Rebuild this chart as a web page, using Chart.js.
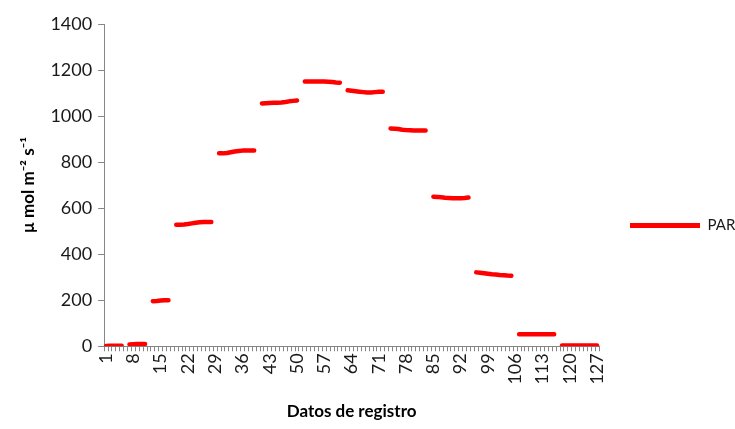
<!DOCTYPE html>
<html>
<head>
<meta charset="utf-8">
<script src="https://cdn.jsdelivr.net/npm/chart.js@4"></script>
<style>
    html, body { margin: 0; padding: 0; background: #fff; }
    #wrap { width: 735px; height: 429px; }
</style>
</head>
<body>
<div id="wrap"><canvas id="par-chart" width="735" height="429"></canvas></div>
<script>
// === DATOS ===
const categories = Array.from({ length: 127 }, (_, i) => i + 1);
const tickLabels = [1, 8, 15, 22, 29, 36, 43, 50, 57, 64, 71, 78, 85, 92, 99, 106, 113, 120, 127];
const yTicks = [0, 200, 400, 600, 800, 1000, 1200, 1400];

// PAR por registro (null = hueco entre tramos)
const parValues = [
    1, 2, 2, 2, 2, null,
    8, 9, 10, 10, 10, null,
    196, 197, 199, 200, 200, null,
    528, 528, 529, 531, 534, 537, 539, 540, 540, 540, null,
    838, 838, 840, 843, 846, 848, 850, 851, 851, 851, null,
    1055, 1056, 1057, 1058, 1058, 1059, 1061, 1064, 1066, 1068, null,
    1150, 1150, 1150, 1150, 1150, 1150, 1149, 1148, 1146, 1145, null,
    1112, 1110, 1108, 1106, 1104, 1102, 1102, 1104, 1106, 1106, null,
    946, 945, 944, 941, 939, 938, 937, 937, 937, 937, null,
    650, 649, 647, 645, 644, 643, 643, 643, 644, 646, null,
    321, 319, 317, 315, 313, 312, 310, 309, 307, 306, null,
    52, 52, 52, 52, 52, 52, 52, 52, 52, 52, null,
    3, 3, 3, 3, 3, 3, 3, 3, 3, 3
];

const FONT = 'Lato, "Open Sans", sans-serif';
const AXIS_GRAY = '#868686';
const TEXT_COLOR = '#1a1a1a';

const ctx = document.getElementById('par-chart').getContext('2d');
new Chart(ctx, {
    type: 'line',
    data: {
        labels: categories,
        datasets: [{
            label: 'PAR',
            data: parValues,
            borderColor: '#ff0000',
            backgroundColor: '#ff0000',
            borderWidth: 4.5,
            borderCapStyle: 'round',
            borderJoinStyle: 'round',
            pointRadius: 0,
            pointHoverRadius: 0,
            spanGaps: false,
            tension: 0
        }]
    },
    options: {
        responsive: false,
        animation: false,
        devicePixelRatio: 1,
        layout: { padding: { top: 24, left: 18, right: 0, bottom: 7 } },
        scales: {
            x: {
                offset: true,
                grid: {
                    display: true,
                    drawOnChartArea: false,
                    drawTicks: true,
                    tickLength: 5,
                    color: AXIS_GRAY,
                    offset: true
                },
                border: { display: true, color: AXIS_GRAY, width: 1 },
                ticks: {
                    autoSkip: false,
                    minRotation: 90,
                    maxRotation: 90,
                    padding: 2,
                    color: TEXT_COLOR,
                    font: { family: FONT, size: 18 },
                    callback: (value, index) => tickLabels.includes(categories[index]) ? String(categories[index]) : ''
                },
                title: {
                    display: true,
                    text: 'Datos de registro',
                    color: '#000',
                    font: { family: FONT, size: 17, weight: 'bold' },
                    padding: { top: 15, bottom: 0 }
                }
            },
            y: {
                min: 0,
                max: 1400,
                afterBuildTicks: (axis) => { axis.ticks = yTicks.map(v => ({ value: v })); },
                grid: {
                    display: true,
                    drawOnChartArea: false,
                    drawTicks: true,
                    tickLength: 6,
                    color: AXIS_GRAY
                },
                border: { display: true, color: AXIS_GRAY, width: 1 },
                ticks: {
                    padding: 6,
                    color: TEXT_COLOR,
                    font: { family: FONT, size: 18 },
                    callback: (value) => String(value)
                },
                title: {
                    display: true,
                    text: 'µ mol m⁻² s⁻¹',
                    color: '#000',
                    font: { family: FONT, size: 17, weight: 'bold' },
                    padding: { top: 0, bottom: 6 }
                }
            }
        },
        plugins: {
            tooltip: { enabled: false },
            legend: {
                position: 'right',
                maxWidth: 136,
                title: {
                    display: true,
                    text: '',
                    font: { family: FONT, size: 4 },
                    padding: 0
                },
                labels: {
                    boxWidth: 70,
                    boxHeight: 5,
                    padding: 31,
                    color: TEXT_COLOR,
                    font: { family: FONT, size: 15 },
                    generateLabels: () => [{
                        text: 'PAR',
                        fillStyle: '#ff0000',
                        strokeStyle: '#ff0000',
                        fontColor: TEXT_COLOR,
                        lineWidth: 0,
                        hidden: false,
                        datasetIndex: 0
                    }]
                }
            }
        }
    }
});
</script>
</body>
</html>
